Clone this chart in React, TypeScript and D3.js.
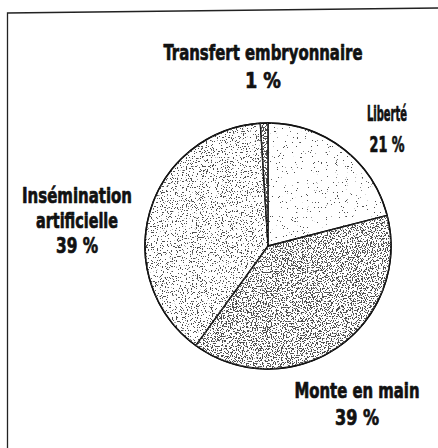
import React, { useRef, useEffect } from 'react';
import * as d3 from 'd3';

// part des modes de reproduction (%)
const categories = ['Liberté', 'Monte en main', 'Insémination artificielle', 'Transfert embryonnaire'];
const shares = [21, 39, 39, 1];
const labelLines = [
  ['Liberté', '21 %'],
  ['Monte en main', '39 %'],
  ['Insémination', 'artificielle', '39 %'],
  ['Transfert embryonnaire', '1 %'],
];

// stipple density per slice (noise threshold)
const stipple = [0.29, 0.455, 0.38, 0.5];

// label placement (center x, first baseline, line step, widths)
const labelLayout = [
  { x: 387, y: 121, step: 31, widths: [40, 35] },
  { x: 357, y: 398, step: 27, widths: [125, 44] },
  { x: 77, y: 203, step: 25, widths: [110, 82, 42] },
  { x: 263, y: 60, step: 28, widths: [199, 36] },
];

export default function App() {
  const svgRef = useRef<SVGSVGElement | null>(null);

  useEffect(() => {
    document.body.style.margin = '0';
    const svg = d3.select(svgRef.current);
    svg.selectAll('*').remove();

    const width = 438;
    const height = 448;
    const cx = 268;
    const cy = 246;
    const r = 123;

    svg.append('rect').attr('width', width).attr('height', height).attr('fill', '#fff');

    // cadre scanné (gauche + haut)
    svg
      .append('path')
      .attr('d', `M7.5,${height} L7.5,13 L${width},8`)
      .attr('fill', 'none')
      .attr('stroke', '#222')
      .attr('stroke-width', 1.3);

    const defs = svg.append('defs');
    stipple.forEach((t, i) => {
      const k = 40;
      const f = defs
        .append('filter')
        .attr('id', `stip-${i}`)
        .attr('filterUnits', 'userSpaceOnUse')
        .attr('x', cx - r - 2)
        .attr('y', cy - r - 2)
        .attr('width', 2 * r + 4)
        .attr('height', 2 * r + 4);
      f.append('feTurbulence')
        .attr('type', 'fractalNoise')
        .attr('baseFrequency', 0.8)
        .attr('numOctaves', 3)
        .attr('seed', 7 + i * 5);
      f.append('feColorMatrix')
        .attr('type', 'matrix')
        .attr('values', `0 0 0 0 0.08  0 0 0 0 0.08  0 0 0 0 0.08  ${-k} 0 0 0 ${k * t}`);
    });

    const pie = d3
      .pie<number>()
      .sort(null)
      .value((d) => d)
      .startAngle(0)
      .endAngle(2 * Math.PI);
    const arcs = pie(shares);
    const arc = d3.arc<d3.PieArcDatum<number>>().innerRadius(0).outerRadius(r);

    const g = svg.append('g').attr('transform', `translate(${cx},${cy})`);

    arcs.forEach((a, i) => {
      defs
        .append('clipPath')
        .attr('id', `clip-${i}`)
        .append('path')
        .attr('transform', `translate(${cx},${cy})`)
        .attr('d', arc(a) as string);
      svg
        .append('g')
        .attr('clip-path', `url(#clip-${i})`)
        .append('rect')
        .attr('x', cx - r - 2)
        .attr('y', cy - r - 2)
        .attr('width', 2 * r + 4)
        .attr('height', 2 * r + 4)
        .attr('fill', '#fff')
        .attr('filter', `url(#stip-${i})`);
    });

    g.selectAll('path.slice')
      .data(arcs)
      .join('path')
      .attr('class', 'slice')
      .attr('d', arc as any)
      .attr('fill', 'none')
      .attr('stroke', '#111')
      .attr('stroke-width', 1.3)
      .attr('stroke-linejoin', 'round');

    g.append('circle').attr('r', r).attr('fill', 'none').attr('stroke', '#111').attr('stroke-width', 1.6);

    // étiquettes
    categories.forEach((c, i) => {
      const lay = labelLayout[i];
      const t = svg
        .append('text')
        .attr('text-anchor', 'middle')
        .attr('font-family', '"Liberation Sans Narrow", "DejaVu Sans Condensed", "DejaVu Sans", sans-serif')
        .attr('font-weight', 'bold')
        .attr('font-size', 22)
        .attr('fill', '#111')
        .attr('stroke', '#111')
        .attr('stroke-width', 0.7)
        .attr('stroke-linejoin', 'round');
      labelLines[i].forEach((line, j) => {
        t.append('tspan')
          .attr('x', lay.x)
          .attr('y', lay.y + j * lay.step)
          .attr('textLength', lay.widths[j])
          .attr('lengthAdjust', 'spacingAndGlyphs')
          .text(line);
      });
    });
  }, []);

  return <svg ref={svgRef} width={438} height={448} style={{ display: 'block' }} />;
}
